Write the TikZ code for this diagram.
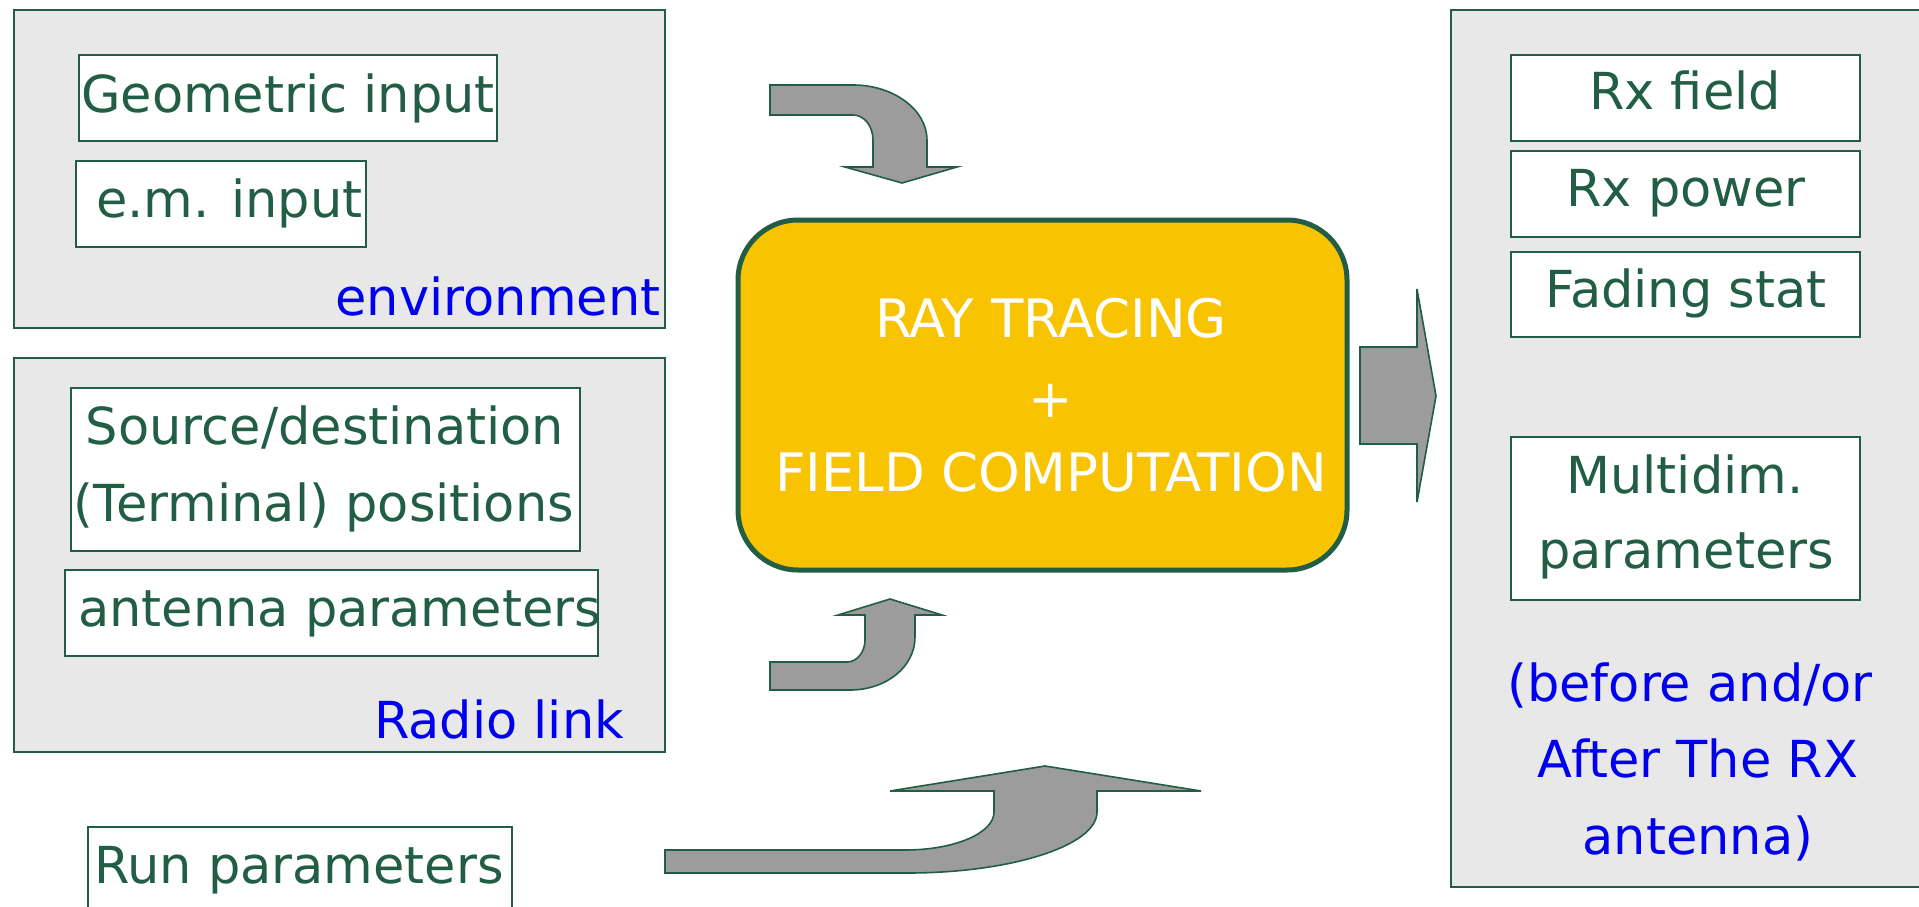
\documentclass[tikz,border=0pt]{standalone}
\usepackage{fontspec}
\setmainfont{DejaVu Sans}
\usetikzlibrary{fit}
\definecolor{dg}{HTML}{215E45}
\definecolor{panel}{HTML}{E8E8E8}
\definecolor{arr}{HTML}{9C9C9C}
\definecolor{gold}{HTML}{F8C300}
\definecolor{lblue}{HTML}{0000EE}
\begin{document}
\begin{tikzpicture}[x=1pt,y=-1pt,
  panelbox/.style={draw=dg, line width=2pt, fill=panel, inner sep=0pt},
  inbox/.style={draw=dg, line width=2pt, fill=white, inner sep=0pt},
  txt/.style={font=\fontsize{51}{60}\selectfont, anchor=base, inner sep=0pt},
  gtxt/.style={txt, text=dg},
  btxt/.style={txt, text=lblue},
  wtxt/.style={txt, text=white, font=\fontsize{53}{62}\selectfont},
  bendarrow/.style={draw=dg, line width=1.6pt, fill=arr, line join=miter}]
\useasboundingbox (0,0) rectangle (1919,907);
\fill[white] (0,0) rectangle (1919,907);
\clip (0,0) rectangle (1919,907);
% panels
\node[panelbox, fit={(14,10) (665,328)}] (env) {};
\node[panelbox, fit={(14,358) (665,752)}] (radio) {};
\node[panelbox, fit={(1451,10) (1930,887)}] (outp) {};
% inner boxes
\node[inbox, fit={(79,55) (497,141)}] (geo) {};
\node[inbox, fit={(76,161) (366,247)}] (em) {};
\node[inbox, fit={(71,388) (580,551)}] (src) {};
\node[inbox, fit={(65,570) (598,656)}] (ant) {};
\node[inbox, fit={(88,827) (512,930)}] (run) {};
\node[inbox, fit={(1511,55) (1860,141)}] (rxf) {};
\node[inbox, fit={(1511,151) (1860,237)}] (rxp) {};
\node[inbox, fit={(1511,252) (1860,337)}] (fad) {};
\node[inbox, fit={(1511,437) (1860,600)}] (mul) {};
% central block
\node[draw=dg, line width=5pt, fill=gold, rounded corners=60pt, inner sep=0pt, fit={(738,220) (1347,570)}] (rt) {};
% texts
\node[gtxt] (tgeo) at (288,112) {Geometric input};
\node[gtxt] (tem) at (229.5,217) {e.m. input};
\node[btxt] (tenv) at (498,315) {environment};
\node[gtxt] (tsrc1) at (325,444) {Source/destination};
\node[gtxt] (tsrc2) at (324,521) {(Terminal) positions};
\node[gtxt] (tant) at (339.5,626) {antenna parameters};
\node[btxt] (tradio) at (499,738) {Radio link};
\node[gtxt] (trun) at (299,883) {Run parameters};
\node[wtxt] (trt1) at (1051,337) {RAY TRACING};
\node[wtxt] (trt2) at (1051,417) {+};
\node[wtxt] (trt3) at (1051,491) {FIELD COMPUTATION};
\node[gtxt] (trxf) at (1685,110) {Rx field};
\node[gtxt] (trxp) at (1686,206) {Rx power};
\node[gtxt] (tfad) at (1686,307) {Fading stat};
\node[gtxt] (tmul1) at (1685,493) {Multidim.};
\node[gtxt] (tmul2) at (1686,568) {parameters};
\node[btxt] (tout1) at (1690,701) {(before and/or};
\node[btxt] (tout2) at (1698,777) {After The RX};
\node[btxt] (tout3) at (1698,854) {antenna)};
% block arrows
\draw[bendarrow] (770,85) -- (853,85) .. controls (894,85) and (927,110) .. (927,140)
  -- (927,167) -- (957,167) -- (902,183) -- (845,167) -- (873,167) -- (873,140)
  .. controls (873,126) and (864,115) .. (853,115) -- (770,115) -- cycle;
\draw[bendarrow] (770,662) -- (847,662) .. controls (857,662) and (865,652) .. (865,640)
  -- (865,615) -- (838,615) -- (890,599) -- (942,615) -- (915,615) -- (915,637)
  .. controls (915,667) and (886,690) .. (850,690) -- (770,690) -- cycle;
\draw[bendarrow] (665,850) -- (905,850) .. controls (955,850) and (994,833) .. (994,812)
  -- (994,791) -- (890,791) -- (1045,766) -- (1201,791) -- (1097,791) -- (1097,812)
  .. controls (1097,846) and (1010,873) .. (908,873) -- (665,873) -- cycle;
\draw[bendarrow] (1360,347) -- (1417,347) -- (1417,289) -- (1436,396) -- (1417,502)
  -- (1417,444) -- (1360,444) -- cycle;
\end{tikzpicture}
\end{document}
